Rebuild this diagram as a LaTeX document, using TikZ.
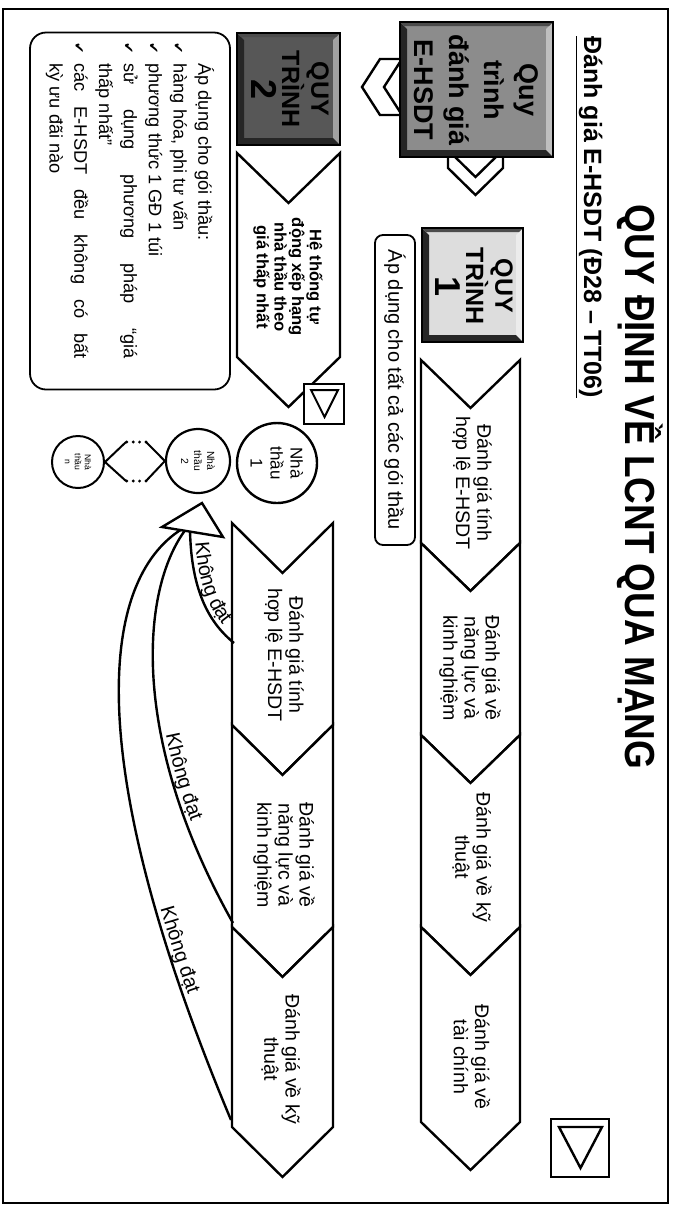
\documentclass[tikz,border=0pt]{standalone}
\usepackage{fontspec}
\usepackage{graphicx}
\setmainfont{Liberation Sans}
\newfontfamily\symbolfont{DejaVu Sans}
\usetikzlibrary{decorations.text}

\definecolor{midgrey}{HTML}{8C8C8C}
\definecolor{palegrey}{HTML}{DDDDDD}
\definecolor{deepgrey}{HTML}{575757}

\tikzset{
  chevshape/.style={line width=1.2pt, draw=black, fill=white, line join=miter},
  steptext/.style={font=\fontsize{9.8}{10.6}\selectfont, align=center, inner sep=0pt},
  boxtext/.style={font=\fontsize{13.5}{17.5}\selectfont\bfseries, align=center, inner sep=0pt},
  bidder/.style={circle, draw, fill=white, align=center, inner sep=0pt},
  button/.style={draw, line width=1.3pt, fill=white, minimum size=#1, inner sep=0pt},
  returnline/.style={line width=1.2pt},
  failtext/.style={decorate, decoration={text along path,
      text={|\fontsize{10}{10}\selectfont|Không đạt}, raise=2.5pt,
      text align={left indent=#1}}},
  dotsline/.style={line width=1.6pt, line cap=round, dash pattern=on 0pt off 3.2pt},
}

% chevron: left u, right u, low w, high w, point depth
\newcommand\chev[5]{%
  \draw[chevshape] (#1,#4) -- (#2,#4) -- ({#2+#5},{(#3+#4)/2}) -- (#2,#3)
    -- (#1,#3) -- ({#1+#5},{(#3+#4)/2}) -- cycle;}

% bevelled box: u0 w0 u1 w1 fill
\newcommand\bevelbox[5]{%
  \fill[#5] (#1,#2) rectangle (#3,#4);
  \fill[white, opacity=0.45] (#1,#4) -- (#3,#4) -- ({#3-7},{#4-7}) -- ({#1+7},{#4-7}) -- cycle;
  \fill[black!85] (#1,#2) -- (#3,#2) -- (#3,#4) -- ({#3-7},{#4-7}) -- ({#3-7},{#2+7}) -- ({#1+7},{#2+7}) -- cycle;
  \fill[black!70] (#1,#2) -- (#1,#4) -- ({#1+4},{#4-4}) -- ({#1+4},{#2+4}) -- cycle;
  \draw[line width=1pt] (#1,#2) rectangle (#3,#4);}

\newcommand\checkitem{\noindent\llap{{\symbolfont\fontsize{6.8}{6.8}\selectfont ✔}\hspace{5pt}}}

\begin{document}
\begin{tikzpicture}[x=0.5pt,y=0.5pt]
\useasboundingbox (0,0) rectangle (675,-1207);
\fill[white] (0,0) rectangle (675,-1207);
\begin{scope}[rotate=-90, every node/.append style={transform shape}]

% slide frame
\draw[line width=1.3pt] (9,3) rectangle (1203,668);

% headings
\node[font=\fontsize{21}{25}\selectfont\bfseries, inner sep=0pt] (title) at (487,640)
  {\scalebox{0.88}[1]{QUY ĐỊNH VỀ LCNT QUA MẠNG}};
\node[font=\fontsize{12.5}{15}\selectfont\bfseries, inner sep=0pt, anchor=base] (sub) at (217,584)
  {\underline{Đánh giá E-HSDT (Đ28 – TT06)}};

% branch chevrons out of the main box
\draw[chevshape] (150,448) -- (168,448) -- (195,475.5) -- (168,503) -- (150,503) -- (177,475.5) -- cycle;
\draw[chevshape] (59,402) -- (59,380) -- (87,362) -- (115,380) -- (115,402) -- (87,384) -- cycle;

% process boxes
\bevelbox{22}{400}{157}{553}{midgrey}
\node[boxtext] (main) at (90,476) {Quy\\trình\\đánh giá\\E-HSDT};

\bevelbox{228}{422}{342}{523}{palegrey}
\node[boxtext, font=\fontsize{12.5}{13.5}\selectfont\bfseries] (proc1) at (286,474)
  {QUY\\TRÌNH\\[2pt]{\fontsize{18}{18}\selectfont 1}};

\bevelbox{33}{237}{145}{340}{deepgrey}
\node[boxtext, font=\fontsize{12.5}{13.5}\selectfont\bfseries] (proc2) at (89,290)
  {QUY\\TRÌNH\\[2pt]{\fontsize{18}{18}\selectfont 2}};

% scope note of process 1
\node[draw, line width=0.9pt, rounded corners=4pt, minimum width=155pt, minimum height=20pt,
      inner sep=0pt, font=\fontsize{10}{12}\selectfont] (allpk) at (390,395)
  {Áp dụng cho tất cả các gói thầu};

% process 1 steps
\chev{360}{543}{421}{520}{48}
\chev{543}{735}{421}{520}{48}
\chev{735}{927}{421}{520}{48}
\chev{927}{1122}{421}{520}{48}
\node[steptext] (a1) at (483,472) {Đánh giá tính\\hợp lệ E-HSDT};
\node[steptext] (a2) at (668,470) {Đánh giá về\\năng lực và\\kinh nghiệm};
\node[steptext] (a3) at (857,472) {Đánh giá về kỹ\\thuật};
\node[steptext] (a4) at (1057,472) {Đánh giá về\\tài chính};

% process 2: ranking, then steps
\chev{153}{357}{237}{340}{50}
\node[steptext, font=\fontsize{8.3}{8.8}\selectfont\bfseries] (rank) at (277,288)
  {Hệ thống tự\\động xếp hạng\\nhà thầu theo\\giá thấp nhất};

\chev{523}{725}{232}{333}{50}
\chev{725}{927}{232}{333}{50}
\chev{927}{1127}{232}{333}{50}
\node[steptext] (b1) at (655,284) {Đánh giá tính\\hợp lệ E-HSDT};
\node[steptext] (b2) at (855,284) {Đánh giá về\\năng lực và\\kinh nghiệm};
\node[steptext] (b3) at (1059,281) {Đánh giá về kỹ\\thuật};

% return paths for failed bids
\coordinate (r1) at (529,190);
\coordinate (r2) at (529,186);
\coordinate (r3) at (529,182);
\coordinate (f1) at (643,234);
\coordinate (f2) at (923,233);
\coordinate (f3) at (1120,231);
\draw[returnline, postaction={failtext=7pt}] (r1) .. controls (595,191) and (625,212) .. (f1);
\draw[returnline, postaction={failtext=107pt}] (r2) .. controls (590,140) and (740,130) .. (f2);
\draw[returnline, postaction={failtext=202pt}] (r3) .. controls (580,100) and (760,80) .. (f3);
\draw[line width=1.2pt, fill=white, line join=miter] (503,202) -- (527,162) -- (537,223) -- cycle;

% ranked bidders
\node[bidder, line width=1.2pt, minimum size=40pt, font=\fontsize{8.5}{10}\selectfont] (c1) at (463,277) {Nhà\\thầu\\1};
\node[bidder, line width=1.1pt, minimum size=32pt, font=\fontsize{5.2}{6.5}\selectfont] (c2) at (461,198) {Nhà\\thầu\\2};
\node[bidder, line width=1pt, minimum size=26pt, font=\fontsize{4.3}{5}\selectfont] (cn) at (462,78) {Nhà\\thầu\\n};
\coordinate (d1) at (442,146);
\coordinate (d2) at (442,126);
\coordinate (d3) at (481,146);
\coordinate (d4) at (481,126);
\draw[line width=1pt] (c2.south) -- (d1);
\draw[line width=1pt] (d2) -- (cn.north);
\draw[line width=1pt] (c2.south) -- (d3);
\draw[line width=1pt] (d4) -- (cn.north);
\draw[dotsline] (d1) -- (d2);
\draw[dotsline] (d3) -- (d4);

% navigation buttons
\node[button=20pt] (nextA) at (404,324) {};
\draw[line width=1pt, line join=miter] (390,311) -- (390,338) -- (417,324.5) -- cycle;
\node[button=29pt] (nextB) at (1148,580) {};
\draw[line width=1.2pt, line join=miter] (1127,559) -- (1127,602) -- (1168,580.5) -- cycle;

% conditions of process 2
\node[draw, line width=0.9pt, rounded corners=8pt, minimum height=100pt, text width=147.5pt,
      inner xsep=15.5pt, inner ysep=4pt, align=justify, font=\fontsize{9.1}{12.4}\selectfont] (cond) at (211,130)
  {\setlength\parindent{0pt}Áp dụng cho gói thầu:\par
   \checkitem hàng hóa, phi tư vấn\par
   \checkitem phương thức 1 GĐ 1 túi\par
   \checkitem sử dụng phương pháp “giá\linebreak thấp nhất”\par
   \checkitem các E-HSDT đều không có bất\linebreak kỳ ưu đãi nào};

\end{scope}
\end{tikzpicture}
\end{document}
